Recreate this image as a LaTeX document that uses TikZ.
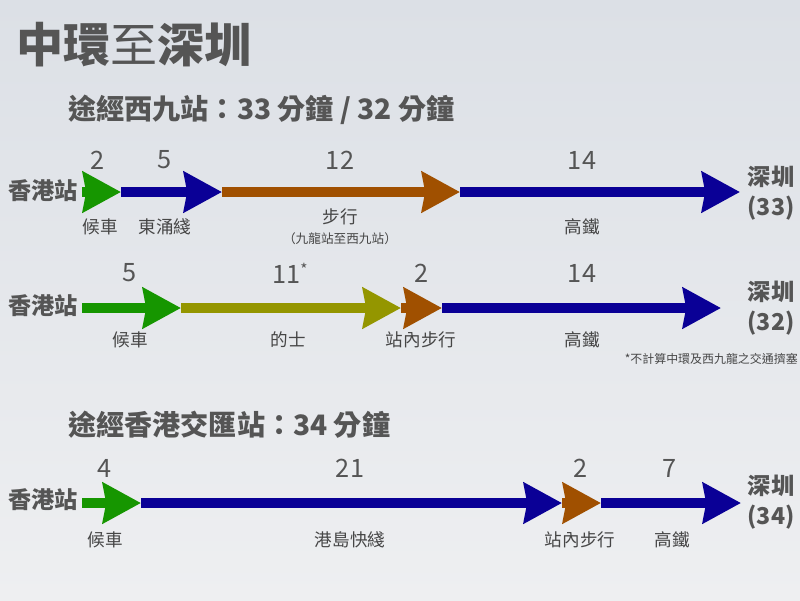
\documentclass[tikz,border=0pt]{standalone}
\usepackage{fontspec}
\setmainfont{Noto Sans CJK TC}
\usetikzlibrary{arrows.meta,positioning}
\definecolor{txtgray}{RGB}{85,85,85}
\definecolor{lblgray}{RGB}{70,70,70}
\definecolor{waitgreen}{RGB}{22,150,0}
\definecolor{railblue}{RGB}{10,0,150}
\definecolor{walkbrown}{RGB}{160,80,0}
\definecolor{taxiolive}{RGB}{148,150,0}
\definecolor{bgtop}{RGB}{220,224,230}
\definecolor{bgbottom}{RGB}{238,239,241}

\begin{document}
\begin{tikzpicture}
             %% setup
             [
                 x=0.025cm, y=-0.025cm,
                 leg/.style={line width=7.1pt, -{Stealth[length=0.95cm, width=1cm, inset=0.08cm]}},
                 titletext/.style={text=txtgray, font=\fontsize{33.5pt}{36pt}\selectfont, anchor=west, inner sep=0pt},
                 headtext/.style={text=txtgray, font=\bfseries\fontsize{20pt}{22pt}\selectfont, anchor=west, inner sep=0pt},
                 stationtext/.style={text=txtgray, font=\bfseries\fontsize{16.5pt}{20pt}\selectfont, inner sep=0pt},
                 desttext/.style={text=txtgray, font=\bfseries\fontsize{16.5pt}{21.5pt}\selectfont, align=center, inner sep=0pt},
                 mintext/.style={text=txtgray, font=\fontsize{18pt}{20pt}\selectfont, inner sep=0pt},
                 modetext/.style={text=lblgray, font=\fontsize{12.5pt}{14pt}\selectfont, inner sep=0pt},
                 smalltext/.style={text=lblgray, font=\fontsize{9pt}{10pt}\selectfont, inner sep=0pt},
             ]

                 %% Background
                 \shade[top color=bgtop, bottom color=bgbottom] (0,0) rectangle (800,600);
                 \useasboundingbox (0,0) rectangle (800,600);

                 %% Titles
                 \node [titletext] (title) at (16,45) {\textbf{中環}至\textbf{深圳}};
                 \node [headtext] (viawk) at (68,110) {途經西九站：33 分鐘 / 32 分鐘};
                 \node [headtext] (viahk) at (68,425) {途經香港交匯站：34 分鐘};

                 %% Route 1 (Tung Chung line)
                 \coordinate (a0) at (82,192);
                 \coordinate (a1) at (121,192);
                 \coordinate (a2) at (222,192);
                 \coordinate (a3) at (460,192);
                 \coordinate (a4) at (740,192);
                 \node [stationtext] (startA) at (43,191) {香港站};
                 \node [desttext] (destA) at (771,193) {深圳\\(33)};
                 \node [mintext] (minA1) at (98,160) {2};
                 \node [mintext] (minA2) at (165,160) {5};
                 \node [mintext] (minA3) at (340,160) {12};
                 \node [mintext] (minA4) at (582,160) {14};
                 \node [modetext] (modeA1) at (100,227) {候車};
                 \node [modetext] (modeA2) at (165,227) {東涌綫};
                 \node [modetext] (modeA3) at (340,217) {步行};
                 \node [smalltext] (noteA3) at (340,239) {（九龍站至西九站）};
                 \node [modetext] (modeA4) at (582,227) {高鐵};

                 %% Route 2 (taxi)
                 \coordinate (b0) at (82,308);
                 \coordinate (b1) at (181,308);
                 \coordinate (b2) at (401,308);
                 \coordinate (b3) at (442,308);
                 \coordinate (b4) at (721,308);
                 \node [stationtext] (startB) at (43,306) {香港站};
                 \node [desttext] (destB) at (771,308) {深圳\\(32)};
                 \node [mintext] (minB1) at (130,273) {5};
                 \node [mintext] (minB2) at (290,273) {11\raisebox{0.6ex}{\fontsize{11pt}{11pt}\selectfont *}};
                 \node [mintext] (minB3) at (422,273) {2};
                 \node [mintext] (minB4) at (582,273) {14};
                 \node [modetext] (modeB1) at (130,340) {候車};
                 \node [modetext] (modeB2) at (288,340) {的士};
                 \node [modetext] (modeB3) at (421,340) {站內步行};
                 \node [modetext] (modeB4) at (582,340) {高鐵};
                 \node [smalltext, anchor=east, font=\fontsize{8.5pt}{10pt}\selectfont] (footnote) at (798,359) {*不計算中環及西九龍之交通擠塞};

                 %% Route 3 (Island line)
                 \coordinate (c0) at (82,503);
                 \coordinate (c1) at (141,503);
                 \coordinate (c2) at (562,503);
                 \coordinate (c3) at (601,503);
                 \coordinate (c4) at (741,503);
                 \node [stationtext] (startC) at (43,500) {香港站};
                 \node [desttext] (destC) at (771,502) {深圳\\(34)};
                 \node [mintext] (minC1) at (105,468) {4};
                 \node [mintext] (minC2) at (350,468) {21};
                 \node [mintext] (minC3) at (581,468) {2};
                 \node [mintext] (minC4) at (670,468) {7};
                 \node [modetext] (modeC1) at (105,540) {候車};
                 \node [modetext] (modeC2) at (350,540) {港島快綫};
                 \node [modetext] (modeC3) at (580,540) {站內步行};
                 \node [modetext] (modeC4) at (672,540) {高鐵};

                 %% Lines
                 \draw[leg, waitgreen] (a0) -- (a1);
                 \draw[leg, railblue] (a1) -- (a2);
                 \draw[leg, walkbrown] (a2) -- (a3);
                 \draw[leg, railblue] (a3) -- (a4);

                 \draw[leg, waitgreen] (b0) -- (b1);
                 \draw[leg, taxiolive] (b1) -- (b2);
                 \draw[leg, walkbrown] (b2) -- (b3);
                 \draw[leg, railblue] (b3) -- (b4);

                 \draw[leg, waitgreen] (c0) -- (c1);
                 \draw[leg, railblue] (c1) -- (c2);
                 \draw[leg, walkbrown] (c2) -- (c3);
                 \draw[leg, railblue] (c3) -- (c4);

        \end{tikzpicture}
\end{document}
